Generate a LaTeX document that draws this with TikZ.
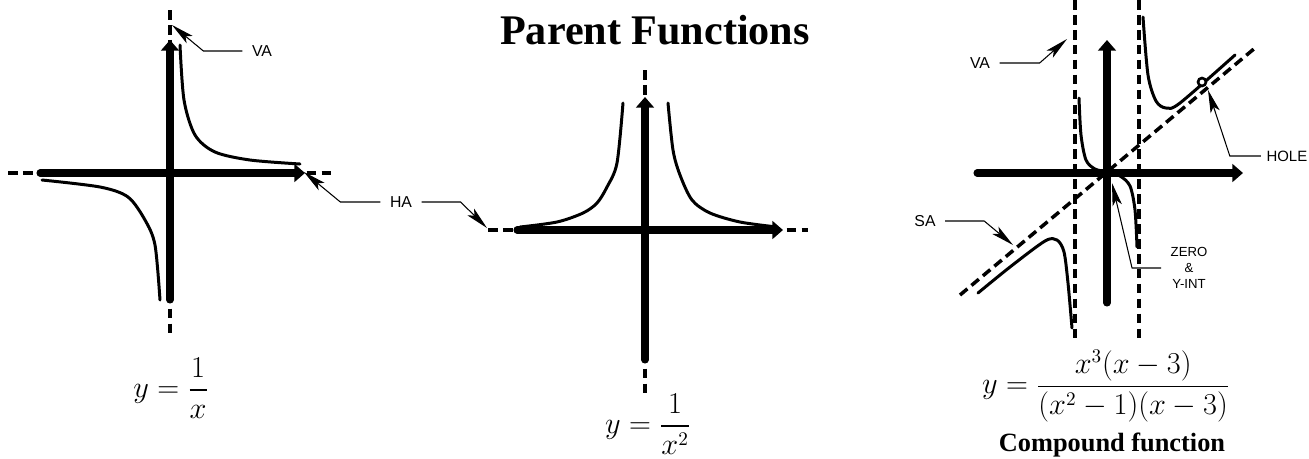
\documentclass[tikz,border=0pt]{standalone}
\usepackage{amsmath}
\usepackage{fontspec}
\setmainfont{Liberation Serif}
\newfontfamily\labelfont{Liberation Sans}
\usetikzlibrary{arrows.meta}
\tikzset{>=latex}
\tikzset{
  axis/.style={line width=4pt, line cap=round, -{Triangle[length=6pt,width=10pt]}},
  asym/.style={line width=2pt, dash pattern=on 5.5pt off 3pt},
  graph/.style={line width=1.7pt, line join=round, line cap=round},
  leader/.style={line width=0.6pt, -{Stealth[length=13pt,width=5.4pt,inset=3pt]}},
  tag/.style={font=\labelfont\fontsize{9}{11}\selectfont, inner sep=3pt, outer sep=2.5pt},
  formula/.style={font=\fontsize{16}{19}\selectfont},
}

\begin{document}
\begin{tikzpicture}[x=0.02cm, y=-0.02cm]
    \useasboundingbox (0,0) rectangle (1309,458);

    \node[font=\bfseries\fontsize{24}{28}\selectfont] (title) at (655,30) {Parent Functions};

    % y = 1/x
    \draw[asym] (8,173) -- (332,173);
    \draw[asym] (170,10) -- (170,333);
    \draw[axis] (40,173) -- (305,173);
    \draw[axis] (170,300) -- (170,40);
    \draw[graph] plot[smooth] coordinates {(180,45) (184,100) (195,135) (215,152) (250,160) (300,164)};
    \draw[graph] plot[smooth] coordinates {(42,180) (100,187) (128,197) (145,220) (155,245) (160,300)};
    \node[formula] (f1) at (171,388) {$y=\dfrac{1}{x}$};

    \node[tag] (va1) at (262,51) {VA};
    \coordinate (va1tip) at (172,25);
    \draw[leader] (va1.west) -- ++(-39,0) -- (va1tip);

    \node[tag] (ha) at (401,202) {HA};
    \coordinate (ha1tip) at (304,172);
    \coordinate (ha2tip) at (487,228);
    \draw[leader] (ha.west) -- ++(-40,0) -- (ha1tip);
    \draw[leader] (ha.east) -- ++(39,0) -- (ha2tip);

    % y = 1/x^2
    \draw[asym] (488,230) -- (808,230);
    \draw[asym] (645,70) -- (645,393);
    \draw[axis] (517,230) -- (783,230);
    \draw[axis] (645,360) -- (645,97);
    \draw[graph] plot[smooth] coordinates {(623,103) (617,163) (607,187) (597,203) (583,213) (557,222) (520,227)};
    \draw[graph] plot[smooth] coordinates {(668,103) (673,150) (680,175) (692,200) (710,213) (740,222) (777,227)};
    \node[formula] (f2) at (648,424) {$y=\dfrac{1}{x^2}$};

    % compound
    \draw[asym] (1075,0) -- (1075,342);
    \draw[asym] (1139,0) -- (1139,342);
    \draw[asym] (960,295) -- (1255,48);
    \draw[axis] (977,173) -- (1243,173);
    \draw[axis] (1107,303) -- (1107,40);
    \draw[graph] plot[smooth] coordinates {(1143,17) (1148,75) (1156,101) (1166,108) (1180,103) (1235,55)};
    \draw[graph] plot[smooth] coordinates {(1079,98) (1081,135) (1086,160) (1095,169) (1107,172) (1120,176) (1130,186) (1135,210) (1137,247)};
    \draw[graph] plot[smooth] coordinates {(978,293) (1010,267) (1045,241) (1057,240) (1064,252) (1068,283) (1072,328)};
    \filldraw[fill=white, line width=1.5pt] (1202,82) circle (0.08cm);
    \node[formula] (f3) at (1106,386) {$y=\dfrac{x^3(x-3)}{(x^2-1)(x-3)}$};
    \node[font=\bfseries\fontsize{15}{18}\selectfont] (cf) at (1112,445) {Compound function};

    \node[tag] (va2) at (980,63) {VA};
    \coordinate (va2tip) at (1067,39);
    \draw[leader] (va2.east) -- ++(40,0) -- (va2tip);

    \node[tag] (sa) at (925,221) {SA};
    \coordinate (satip) at (1013,245);
    \draw[leader] (sa.east) -- ++(39,0) -- (satip);

    \node[tag, anchor=east, font=\labelfont\fontsize{8.5}{10}\selectfont, outer sep=0pt, inner sep=1pt] (hole) at (1309,156) {HOLE};
    \coordinate (holetip) at (1208,90);
    \draw[leader] (hole.west) ++(-4,0) -- ++(-31,0) -- (holetip);

    \node[tag, align=center, font=\labelfont\fontsize{7.5}{9}\selectfont] (zero) at (1189,268) {ZERO\\\&\\Y-INT};
    \coordinate (zerotip) at (1112,183);
    \draw[leader] (zero.west) -- ++(-29,0) -- (zerotip);
\end{tikzpicture}
\end{document}
